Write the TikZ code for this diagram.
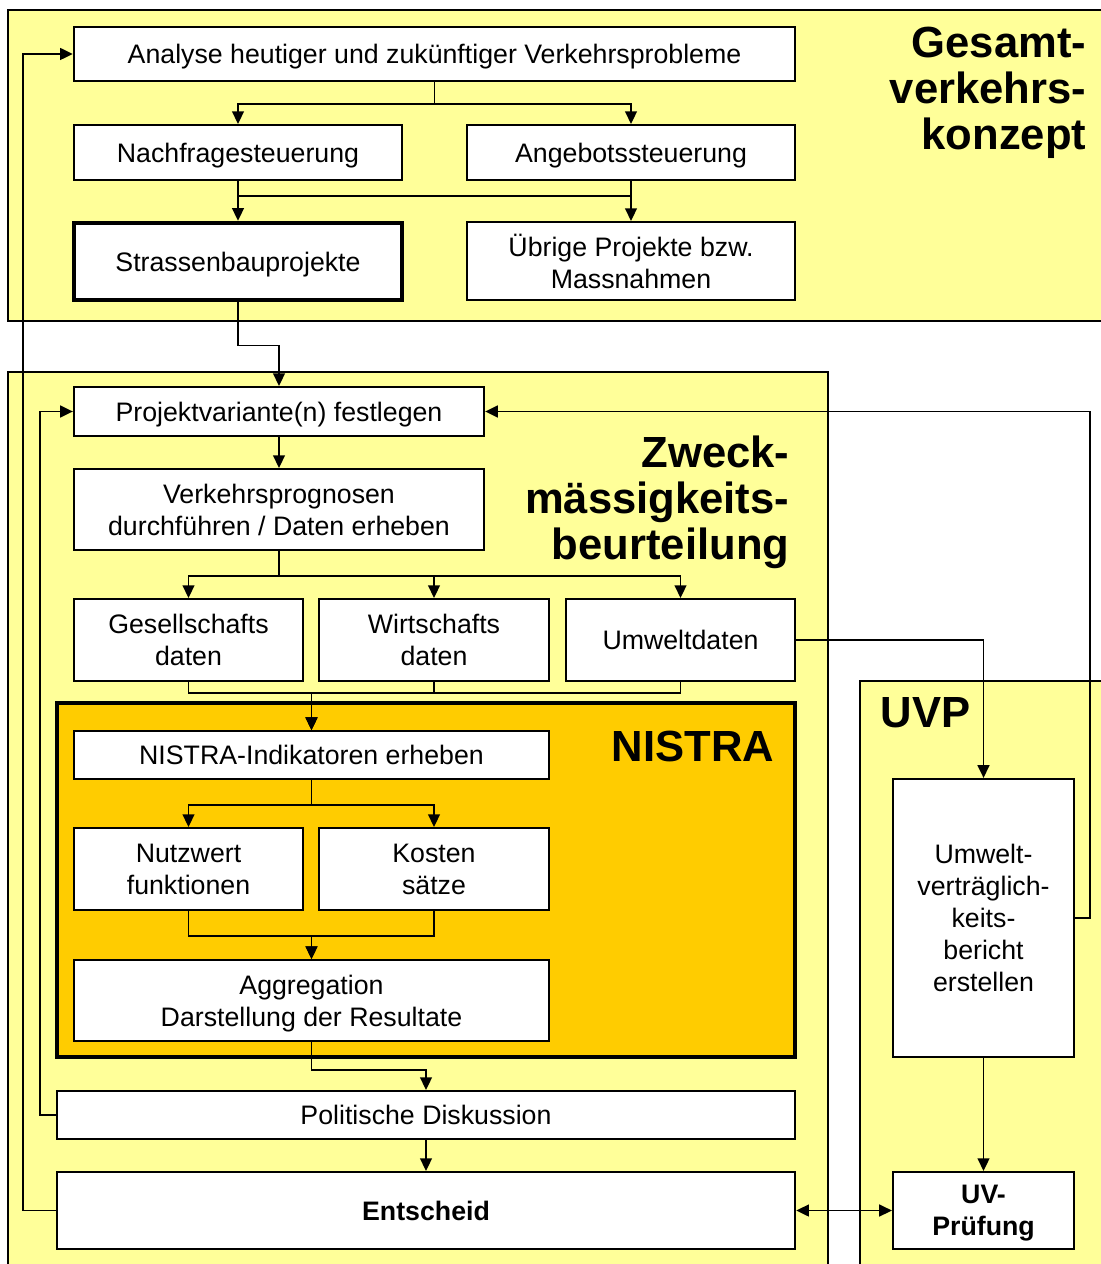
\documentclass[tikz,border=0pt]{standalone}
\usepackage{fontspec}
\setmainfont{Liberation Sans}
\usetikzlibrary{arrows.meta, positioning, calc}
\definecolor{paleyellow}{HTML}{FFFF99}
\definecolor{nistragold}{HTML}{FFCC00}

\begin{document}
\begin{tikzpicture}[x=0.01cm, y=-0.01cm, >={Triangle[length=3.6pt,width=3.4pt]},
    box/.style={draw, fill=white, line width=0.6pt, align=center, inner sep=0pt,
        text depth=0pt, font=\fontsize{7.6}{9.1}\selectfont},
    thickbox/.style={box, line width=1.3pt},
    frame/.style={draw, line width=0.6pt},
    heading/.style={font=\fontsize{12.4}{13.1}\selectfont\bfseries, inner sep=0pt},
    link/.style={line width=0.45pt}]
\clip (0,0) rectangle (1101,1264);

% frames
\draw[frame, fill=paleyellow] (8,10) rectangle (1115,321);
\draw[frame, fill=paleyellow] (8,372) rectangle (828,1280);
\draw[frame, fill=paleyellow] (860,681) rectangle (1115,1280);
\draw[frame, line width=1.3pt, fill=nistragold] (57,703) rectangle (795,1057);

\node[heading, anchor=north east, align=right] (gvk) at (1087,26) {Gesamt-\\verkehrs-\\konzept};
\node[heading, anchor=north east, align=right] (zmb) at (790,435) {Zweck-\\mässigkeits-\\beurteilung};
\node[heading, anchor=east] (nistra) at (775,746) {NISTRA};
\node[heading, anchor=west] (uvp) at (880,713) {UVP};

% boxes
\node[box, minimum width=7.21cm, minimum height=0.54cm] (analyse) at (434.5,54) {Analyse heutiger und zukünftiger Verkehrsprobleme};
\node[box, minimum width=3.28cm, minimum height=0.55cm] (nachfrage) at (238,152.5) {Nachfragesteuerung};
\node[box, minimum width=3.28cm, minimum height=0.55cm] (angebot) at (631,152.5) {Angebotssteuerung};
\node[thickbox, minimum width=3.28cm, minimum height=0.77cm] (strassen) at (238,261.5) {Strassenbauprojekte};
\node[box, minimum width=3.28cm, minimum height=0.78cm] (uebrige) at (631,261) {Übrige Projekte bzw.\\Massnahmen};
\node[box, minimum width=4.10cm, minimum height=0.49cm] (projekt) at (279,411.5) {Projektvariante(n) festlegen};
\node[box, minimum width=4.10cm, minimum height=0.81cm] (prognose) at (279,509.5) {Verkehrsprognosen\\durchführen / Daten erheben};
\node[box, minimum width=2.29cm, minimum height=0.82cm] (gesell) at (188.5,640) {Gesellschafts\\daten};
\node[box, minimum width=2.30cm, minimum height=0.82cm] (wirt) at (434,640) {Wirtschafts\\daten};
\node[box, minimum width=2.29cm, minimum height=0.82cm] (umwelt) at (680.5,640) {Umweltdaten};
\node[box, minimum width=4.75cm, minimum height=0.48cm] (nindik) at (311.5,755) {NISTRA-Indikatoren erheben};
\node[box, minimum width=2.29cm, minimum height=0.82cm] (nutz) at (188.5,869) {Nutzwert\\funktionen};
\node[box, minimum width=2.30cm, minimum height=0.82cm] (kosten) at (434,869) {Kosten\\sätze};
\node[box, minimum width=4.75cm, minimum height=0.81cm] (aggr) at (311.5,1000.5) {Aggregation\\Darstellung der Resultate};
\node[box, minimum width=7.38cm, minimum height=0.48cm] (polit) at (426,1115) {Politische Diskussion};
\node[box, minimum width=7.38cm, minimum height=0.77cm] (entscheid) at (426,1210.5) {\bfseries Entscheid};
\node[box, minimum width=1.81cm, minimum height=2.78cm] (bericht) at (983.5,918) {Umwelt-\\verträglich-\\keits-\\bericht\\erstellen};
\node[box, minimum width=1.81cm, minimum height=0.77cm] (uvpruef) at (983.5,1210.5) {\bfseries UV-\\\bfseries Prüfung};

% connectors
\draw[link, ->] (analyse.south) -- ++(0,22) -| (nachfrage.north);
\draw[link, ->] (analyse.south) -- ++(0,22) -| (angebot.north);
\draw[link, ->] (nachfrage.south) -- (strassen.north);
\draw[link, ->] (angebot.south) -- (uebrige.north);
\draw[link] ($(nachfrage.south)+(0,15)$) -- ($(angebot.south)+(0,15)$);
\draw[link, ->] (strassen.south) -- ++(0,43) -| (projekt.north);
\draw[link, ->] (projekt.south) -- (prognose.north);
\draw[link, ->] (prognose.south) -- ++(0,25) -| (gesell.north);
\draw[link, ->] (prognose.south) -- ++(0,25) -| (wirt.north);
\draw[link, ->] (prognose.south) -- ++(0,25) -| (umwelt.north);
\draw[link, ->] (gesell.south) -- ++(0,11) -| (nindik.north);
\draw[link, ->] (wirt.south) -- ++(0,11) -| (nindik.north);
\draw[link, ->] (umwelt.south) -- ++(0,11) -| (nindik.north);
\draw[link, ->] (nindik.south) -- ++(0,25) -| (nutz.north);
\draw[link, ->] (nindik.south) -- ++(0,25) -| (kosten.north);
\draw[link, ->] (nutz.south) -- ++(0,25) -| (aggr.north);
\draw[link, ->] (kosten.south) -- ++(0,25) -| (aggr.north);
\draw[link, ->] (aggr.south) -- ++(0,28) -| (polit.north);
\draw[link, ->] (polit.south) -- (entscheid.north);
\draw[link, <->] (entscheid.east) -- (uvpruef.west);
\draw[link, ->] (umwelt.east) -| (bericht.north);
\draw[link, ->] (bericht.south) -- (uvpruef.north);
\draw[link, ->] (bericht.east) -- ++(15,0) |- (projekt.east);
\draw[link, ->] (polit.west) -- ++(-16,0) |- (projekt.west);
\draw[link, ->] (entscheid.west) -- ++(-33,0) |- (analyse.west);
\end{tikzpicture}
\end{document}
